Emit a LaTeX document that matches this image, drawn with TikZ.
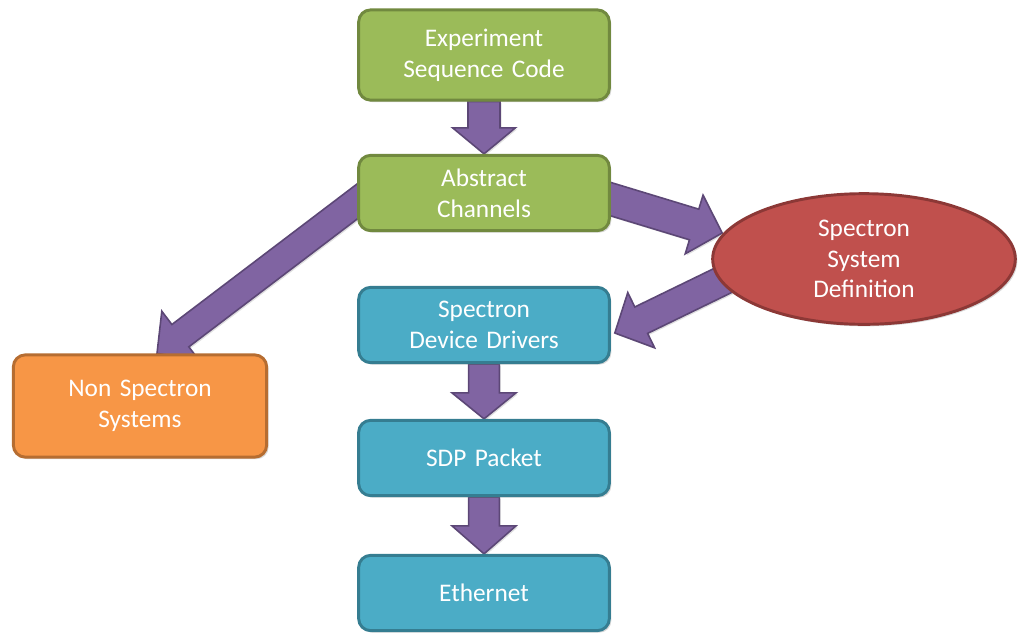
\documentclass[tikz,border=0pt]{standalone}
\usepackage{fontspec}
\setmainfont{Carlito}
\usetikzlibrary{calc,shapes.geometric,shadows,backgrounds}
\definecolor{gfill}{HTML}{9BBB59}\definecolor{gline}{HTML}{71893F}
\definecolor{bfill}{HTML}{4BACC6}\definecolor{bline}{HTML}{357D91}
\definecolor{ofill}{HTML}{F79646}\definecolor{oline}{HTML}{B66D31}
\definecolor{rfill}{HTML}{C0504D}\definecolor{rline}{HTML}{8C3836}
\definecolor{pfill}{HTML}{8064A2}\definecolor{pline}{HTML}{5C4776}
\newcommand\blockarrow[5]{%
  \coordinate (ba-c) at ($(#2)!#5!(#1)$);
  \draw[barrow] ($(#1)!#3!90:(#2)$) -- ($(ba-c)!#3!90:(#2)$) -- ($(ba-c)!#4!90:(#2)$) -- (#2)
    -- ($(ba-c)!#4!-90:(#2)$) -- ($(ba-c)!#3!-90:(#2)$) -- ($(#1)!#3!-90:(#2)$) -- cycle;}
\begin{document}
\begin{tikzpicture}[x=0.75pt,y=-0.75pt,
  shad/.style={drop shadow={opacity=0.3,shadow xshift=1.5pt,shadow yshift=-1.5pt}},
  box/.style={rounded corners=9pt, line width=2.2pt, minimum width=188pt, text width=180pt,
    align=center, inner sep=0pt, text=white, font=\fontsize{19}{23}\selectfont, shad},
  gbox/.style={box, fill=gfill, draw=gline},
  bbox/.style={box, fill=bfill, draw=bline, minimum height=56.5pt},
  obox/.style={box, fill=ofill, draw=oline, minimum width=190pt, minimum height=76.7pt},
  redell/.style={ellipse, fill=rfill, draw=rline, line width=2.2pt, minimum width=227pt,
    minimum height=98pt, inner sep=0pt, align=center, text=white,
    font=\fontsize{19}{23}\selectfont, shad},
  barrow/.style={fill=pfill, draw=pline, line width=1.2pt, line join=miter,
    drop shadow={opacity=0.25,shadow xshift=1.2pt,shadow yshift=-1.2pt}}
]
\useasboundingbox (0,0) rectangle (1018,633);
\node[gbox, minimum height=67.7pt] (esc) at (484,55) {Experiment\\Sequence Code};
\node[gbox, minimum height=56.5pt] (ac) at (484,193) {Abstract\\Channels};
\node[bbox] (sdd) at (484,325) {Spectron\\Device Drivers};
\node[bbox] (sdp) at (484,458) {SDP Packet};
\node[bbox] (eth) at (484,593) {Ethernet};
\node[obox] (ns) at (140,406) {Non Spectron\\Systems};
\node[redell] (ssd) at (864,259) {Spectron\\System\\Definition};
\coordinate (a1s) at ($(ac.west)+(19,-6)$);
\coordinate (a1t) at ($(ns.north)+(17,0)$);
\coordinate (a2s) at ($(ac.east)+(-17,1)$);
\coordinate (a2t) at ($(ssd.west)+(11,-26)$);
\coordinate (a3s) at ($(ssd.west)+(25,15)$);
\coordinate (a3t) at ($(sdd.east)+(4,8)$);
\begin{scope}[on background layer]
\blockarrow{esc.south}{ac.north}{12pt}{23.5pt}{19.5pt}
\blockarrow{a1s}{a1t}{10.5pt}{23pt}{22pt}
\blockarrow{a2s}{a2t}{12pt}{23pt}{22pt}
\blockarrow{a3s}{a3t}{11pt}{23pt}{22pt}
\blockarrow{sdd.south}{sdp.north}{11.5pt}{24pt}{19.5pt}
\blockarrow{sdp.south}{eth.north}{11.5pt}{24pt}{21pt}
\end{scope}
\end{tikzpicture}
\end{document}
